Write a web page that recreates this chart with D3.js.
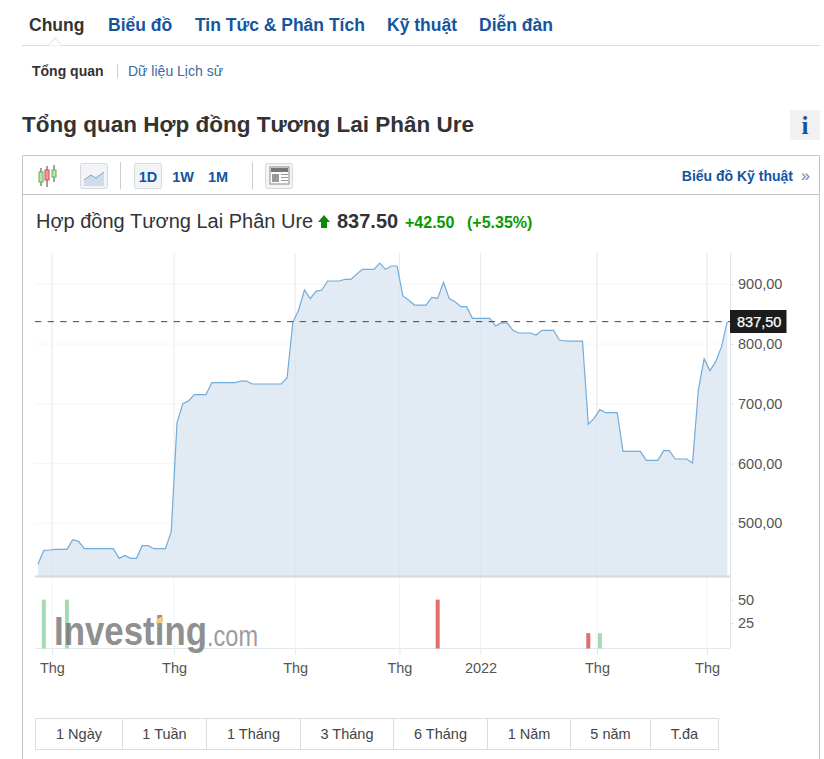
<!DOCTYPE html>
<html lang="vi"><head><meta charset="utf-8">
<script src="https://cdnjs.cloudflare.com/ajax/libs/d3/7.8.5/d3.min.js"></script>
<style>
html,body{margin:0;padding:0;background:#fff;overflow:hidden}
svg{display:block;font-family:"Liberation Sans",Arial,sans-serif}
</style></head><body><svg id="c" width="824" height="759"></svg>
<script>
const prices=[431.3,454.7,455.3,456.4,456.4,456.4,472.6,469.8,457.5,457.5,457.5,457.5,457.5,457.5,441.3,446.3,441.3,441.3,462.5,462.5,
457.5,457.5,457.5,486,668.4,700.2,705.2,715.3,715.3,715.3,735.4,735.4,735.4,735.4,735.4,738.1,738.1,733.1,733.1,733.1,
733.1,733.1,733.1,743.7,836.3,857,890.5,876,888.2,890.5,905.5,905.5,905.5,908.3,908.3,916.7,925,925,925,935.6,
925,930.6,930.6,880.4,873.2,865.3,865.3,865.3,878.2,876.5,903.3,876,870.9,862.6,862.6,843,843,843,843,830.2,
835.8,835.2,823,818.5,818.5,818.5,815.1,823,823,823,806.8,805.1,805,805,805,665.6,675.7,690.2,685.1,685.1,
685.1,620.4,620.4,620.4,620.4,605.4,605.4,605.4,621.5,621.5,607.6,607.6,607.6,600.9,723,775.5,755.4,770.5,795.6,837.5];
const volIndex=[1,5,69,95,97];
const volValue=[50,50,50,14,14];
const volUp=[true,true,false,false,true];
const priceTicks=[500,600,700,800,900];
const volTicks=[25,50];
const xTickPos=[2.4,23.5,44.4,62.4,76.4,96.5,115.5];
const xTickLabels=["Thg","Thg","Thg","Thg","2022","Thg","Thg"];
const navItems=["Chung","Biểu đồ","Tin Tức & Phân Tích","Kỹ thuật","Diễn đàn"];
const rangeLabels=["1 Ngày","1 Tuần","1 Tháng","3 Tháng","6 Tháng","1 Năm","5 năm","T.đa"];
const lastPrice=837.5;

const svg=d3.select("#c");
const BLUE="#14559f",DARK="#333";
function T(x,y,s,o={}){const t=svg.append("text").attr("x",x).attr("y",y).text(s)
 .attr("font-size",o.size||14).attr("fill",o.fill||DARK);
 if(o.bold)t.attr("font-weight","bold");if(o.anchor)t.attr("text-anchor",o.anchor);
 if(o.family)t.attr("font-family",o.family);if(o.ls)t.attr("letter-spacing",o.ls);return t;}
function L(x1,y1,x2,y2,c,w=1){return svg.append("line").attr("x1",x1).attr("y1",y1).attr("x2",x2).attr("y2",y2).attr("stroke",c).attr("stroke-width",w);}
function R(x,y,w,h,f,s){return svg.append("rect").attr("x",x).attr("y",y).attr("width",w).attr("height",h).attr("fill",f).attr("stroke",s||"none");}

// header
const navX=[29,108,195,387,479];
navItems.forEach((n,i)=>T(navX[i],31,n,{size:17.5,bold:true,fill:i?BLUE:DARK}));
L(22,45.5,820,45.5,"#ddd");
svg.append("path").attr("d","M48,45.5L55,38L62,45.5").attr("fill","#fff").attr("stroke","#ddd");
T(32,76,"Tổng quan",{size:14,bold:true});
L(117.5,64,117.5,78,"#ccc");
T(128,76,"Dữ liệu Lịch sử",{size:14,fill:"#3e6a9e"});
T(22,132,"Tổng quan Hợp đồng Tương Lai Phân Ure",{size:22.5,bold:true});
R(790,110,30,30,"#f1f1f1");
T(805,134,"i",{size:25,bold:true,fill:BLUE,anchor:"middle",family:"'Liberation Serif',serif"});

// frame
svg.append("path").attr("d","M22.5,759V155.5H819.5V759").attr("fill","none").attr("stroke","#c4c4c4");
L(22.5,194.5,819.5,194.5,"#c4c4c4");

// toolbar
[[41,168,186,172,182,"#5fb04f","#bfe3b0"],[47,166,187,170,180,"#d14b4b","#f59a9a"],[54,165,182,170,177,"#5fb04f","#bfe3b0"]].forEach(c=>{
 L(c[0]-1.5+1.5,c[1],c[0],c[2],"#444");
 R(c[0]-2,c[3],4,c[4]-c[3],c[6],c[5]);
});
function box(x,w){svg.append("rect").attr("x",x+.5).attr("y",163.5).attr("width",w).attr("height",25).attr("rx",2).attr("fill","#f2f4f7").attr("stroke","#d5d8dc");}
box(80,27);
svg.append("path").attr("d","M84,186V180L91,175L96,178L104,172V186Z").attr("fill","#cfdcec");
svg.append("path").attr("d","M84,180L91,175L96,178L104,172").attr("fill","none").attr("stroke","#7fa3c9");
L(120.5,162,120.5,189,"#ccc");
box(134,27);
T(148,181.5,"1D",{size:14.5,bold:true,fill:BLUE,anchor:"middle"});
T(183,181.5,"1W",{size:14.5,bold:true,fill:BLUE,anchor:"middle"});
T(218,181.5,"1M",{size:14.5,bold:true,fill:BLUE,anchor:"middle"});
L(252.5,162,252.5,189,"#ccc");
box(265,27);
R(270,167,19,17,"#fff","#888");
R(271,168,17,4,"#777");
R(272,174,7,8,"#999");
[174,177,180].forEach(y=>L(281,y+.5,288,y+.5,"#999"));
T(793,181,"Biểu đồ Kỹ thuật",{size:14,bold:true,fill:BLUE,anchor:"end"});
T(801,181,"»",{size:16,fill:"#5f86b5"});

// headline
T(36,228,"Hợp đồng Tương Lai Phân Ure",{size:20,fill:"#333"});
svg.append("path").attr("d","M324,215L330,222H327V228H321V222H318Z").attr("fill","#0a8a0a");
T(337,228,"837.50",{size:20,bold:true});
T(405,228,"+42.50",{size:16,bold:true,fill:"#0a9a00"});
T(467,228,"(+5.35%)",{size:16,bold:true,fill:"#0a9a00"});

// scales
const plotL=35,plotR=730,priceTop=253,priceBot=576,volBot=648.5;
const x=d3.scaleLinear().domain([0,prices.length-1]).range([38,727.3]);
const y=d3.scaleLinear().domain([500,900]).range([523.3,284.3]);
const yv=d3.scaleLinear().domain([0,50]).range([646.2,599.6]);

// grid
const grid=svg.append("g");
priceTicks.forEach(v=>grid.append("line").attr("x1",plotL).attr("x2",plotR).attr("y1",y(v)).attr("y2",y(v)).attr("stroke","#f5f6f8"));
xTickPos.forEach(v=>{const g=x(v);
 grid.append("line").attr("x1",g).attr("x2",g).attr("y1",priceTop).attr("y2",volBot).attr("stroke","#f2f3f6");});

// area and line
const area=d3.area().x((d,i)=>x(i)).y0(priceBot).y1(d=>y(d));
const line=d3.line().x((d,i)=>x(i)).y(d=>y(d));
svg.append("path").datum(prices).attr("d",area).attr("fill","#dbe6f1").attr("fill-opacity",.8);
xTickPos.forEach(v=>svg.append("line").attr("x1",x(v)).attr("x2",x(v)).attr("y1",priceTop).attr("y2",priceBot).attr("stroke","#dde5ee").attr("stroke-opacity",.6));
svg.append("path").datum(prices).attr("d",line).attr("fill","none").attr("stroke","#72acd9").attr("stroke-width",1.2);

// frame lines
L(plotL,576.5,plotR,576.5,"#d8d8d8",2);
L(plotL,volBot,plotR,volBot,"#e3e7ee",1);
L(730.5,priceTop,730.5,volBot,"#e0e4ec",1);

// last price
svg.append("line").attr("x1",plotL).attr("x2",plotR).attr("y1",y(lastPrice)).attr("y2",y(lastPrice))
 .attr("stroke","#444").attr("stroke-dasharray","6.3,6.3");

// volume
svg.selectAll(".v").data(volIndex).join("rect").attr("class","v")
 .attr("x",d=>x(d)-2).attr("width",4)
 .attr("y",(d,i)=>yv(volValue[i])).attr("height",(d,i)=>volBot-yv(volValue[i]))
 .attr("fill",(d,i)=>volUp[i]?"#a6dab5":"#e26e6e");

// logo
const logo=svg.append("g").attr("opacity",.72);
logo.append("text").attr("x",54).attr("y",645).text("Investing").attr("font-size",41).attr("font-weight","bold")
 .attr("fill","#666").attr("textLength",153).attr("lengthAdjust","spacingAndGlyphs");
logo.append("text").attr("x",207).attr("y",646).text(".com").attr("font-size",29)
 .attr("fill","#777").attr("textLength",51).attr("lengthAdjust","spacingAndGlyphs");
svg.append("path").attr("d","M157,619L163,616V622L156,624Z").attr("fill","#f8c77e");

// axes
const fmt=v=>d3.format(".2f")(v).replace(".",",");
const ax=svg.append("g").attr("transform","translate(730,0)").call(d3.axisRight(y).tickValues(priceTicks).tickFormat(fmt).tickSize(4).tickPadding(4));
const av=svg.append("g").attr("transform","translate(730,0)").call(d3.axisRight(yv).tickValues(volTicks).tickFormat(d3.format("d")).tickSize(4).tickPadding(4));
const ab=svg.append("g").attr("transform",`translate(0,${volBot})`).call(d3.axisBottom(x).tickValues(xTickPos).tickFormat((d,i)=>xTickLabels[i]).tickSize(6).tickPadding(8));
[ax,av,ab].forEach(a=>{a.select(".domain").remove();a.selectAll("line").attr("stroke","#e0e4ec");
 a.selectAll("text").attr("font-family","'Liberation Sans',Arial,sans-serif").attr("font-size",14.5).attr("fill","#555");});

// last tag
R(730,310,56.5,23,"#1c1c1c");
T(737,326.5,fmt(lastPrice),{size:14.5,fill:"#fff",bold:false}).attr("stroke","#fff").attr("stroke-width",.25);

// range buttons
const rangeEdges=[35.5,122.5,206.5,300.5,393.5,487.5,570.5,650.5,718.5];
rangeLabels.forEach((r,i)=>{
 R(rangeEdges[i],718.5,rangeEdges[i+1]-rangeEdges[i],31,"#fff","#ddd");
 T((rangeEdges[i]+rangeEdges[i+1])/2,739,r,{size:14.5,fill:"#444",anchor:"middle"});
});
</script></body></html>
